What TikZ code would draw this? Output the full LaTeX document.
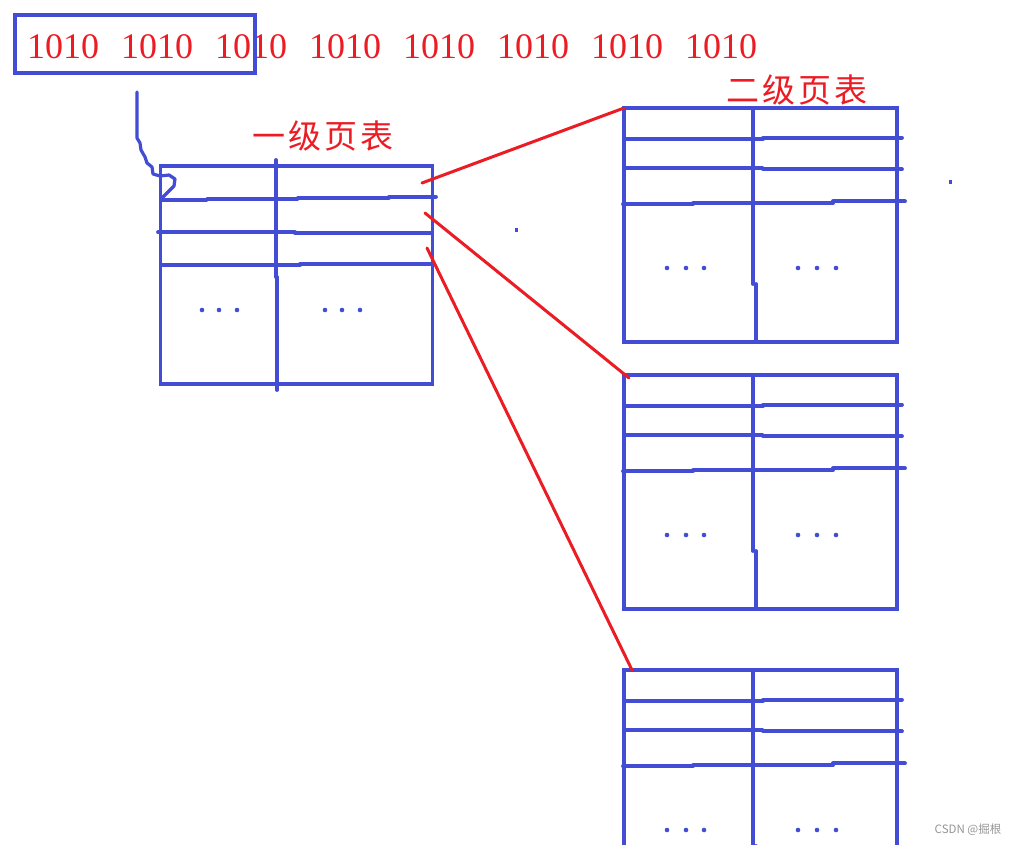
\documentclass[tikz,border=0pt]{standalone}
\usepackage{fontspec}
\setmainfont{Liberation Serif}
\newfontfamily\cjk{Noto Sans CJK SC}
\definecolor{penblue}{RGB}{66,76,212}
\definecolor{penred}{RGB}{236,28,36}
\definecolor{wmgray}{RGB}{150,150,150}
\tikzset{
  bl/.style={draw=penblue, line width=3.8pt, line cap=round, line join=round},
  rl/.style={draw=penred, line width=3pt, line cap=round},
  tbl/.style={draw=penblue, line width=3.8pt, rectangle, inner sep=0pt, outer sep=0pt},
  digits/.style={text=penred, inner sep=0pt, anchor=base west, font=\fontsize{36}{40}\selectfont},
  title/.style={text=penred, inner sep=0pt, font=\cjk\fontsize{33}{36}\selectfont},
  dotmark/.style={fill=penblue, draw=none},
}
\begin{document}
\begin{tikzpicture}[x=1pt,y=-1pt]
\useasboundingbox (0,0) rectangle (1017,845);
\clip (0,0) rectangle (1017,845);
\fill[white] (0,0) rectangle (1017,845);

% address bits
\foreach \i in {0,...,7}{
  \node[digits] (bits\i) at ({27+94*\i},59) {1010};
}
\node[tbl, minimum width=240pt, minimum height=58pt] (addr) at (135,44) {};

% titles
\node[title] (title1) at (323,136) {一\hspace{3pt}级\hspace{3pt}页\hspace{3pt}表};
\node[title] (title2) at (797,90) {二\hspace{3pt}级\hspace{3pt}页\hspace{3pt}表};

% first-level table
\node[tbl, minimum width=272pt, minimum height=218pt] (t1) at (296.5,275.3) {};
\draw[bl] (276,160) -- (276,277);
\draw[bl] (277,277) -- (277,390);
\draw[bl] (162,200) -- (207,200) -- (207,199) -- (298,199) -- (298,197.7) -- (389,197.7) -- (389,196.7) -- (436,196.7);
\draw[bl] (158,232.3) -- (295,232.3) -- (295,233.3) -- (432,233.3);
\draw[bl] (162,265.3) -- (300,265.3) -- (300,263.7) -- (432,263.7);
\foreach \x in {202,219,237,325,342,360}{ \fill[dotmark] (\x,310) circle (2.3pt); }

% hook connector
\coordinate (hkS) at (137,92);
\coordinate (hkE) at (163,197);
\draw[bl, line width=3.2pt] (hkS) -- (137,138) -- (140,143) -- (141,150) -- (145,157) -- (147,163) -- (152,167) -- (153,174) -- (160,176) -- (169,175) -- (175,179) -- (174,186) -- (170,190) -- (hkE);

% second-level tables
\foreach \dy/\nm in {0/t2a,267/t2b,562/t2c}{
  \begin{scope}[shift={(0,\dy)}]
    \node[tbl, minimum width=273pt, minimum height=234pt] (\nm) at (760.5,225) {};
    \draw[bl] (753,108) -- (753,284);
    \draw[bl] (756,284) -- (756,342);
    \draw[bl] (624,139.3) -- (763,139.3) -- (763,137.7) -- (902,137.7);
    \draw[bl] (624,168) -- (763,168) -- (763,169.3) -- (902,169.3);
    \draw[bl] (623,204.3) -- (693,204.3) -- (693,203.3) -- (833,203.3) -- (833,201.3) -- (905,201.3);
    \foreach \x in {667,686,704,798,817,836}{ \fill[dotmark] (\x,268) circle (2.3pt); }
  \end{scope}
}

% red connectors
\coordinate (e1) at (422,183);
\coordinate (e2) at (425,213);
\coordinate (e3) at (427,248);
\draw[rl] (e1) -- (t2a.north west);
\draw[rl] (e2) -- ([xshift=5pt,yshift=-3pt]t2b.north west);
\draw[rl] (e3) -- ([xshift=8pt]t2c.north west);

% stray marks
\fill[penblue] (514.5,227.5) rectangle (518,231.5);
\fill[penblue] (948.5,180.5) rectangle (952,184.5);

% watermark
\node[text=wmgray, inner sep=0pt, font=\cjk\fontsize{11.5}{13}\selectfont] (wm) at (968,830) {CSDN @掘根};
\end{tikzpicture}
\end{document}
